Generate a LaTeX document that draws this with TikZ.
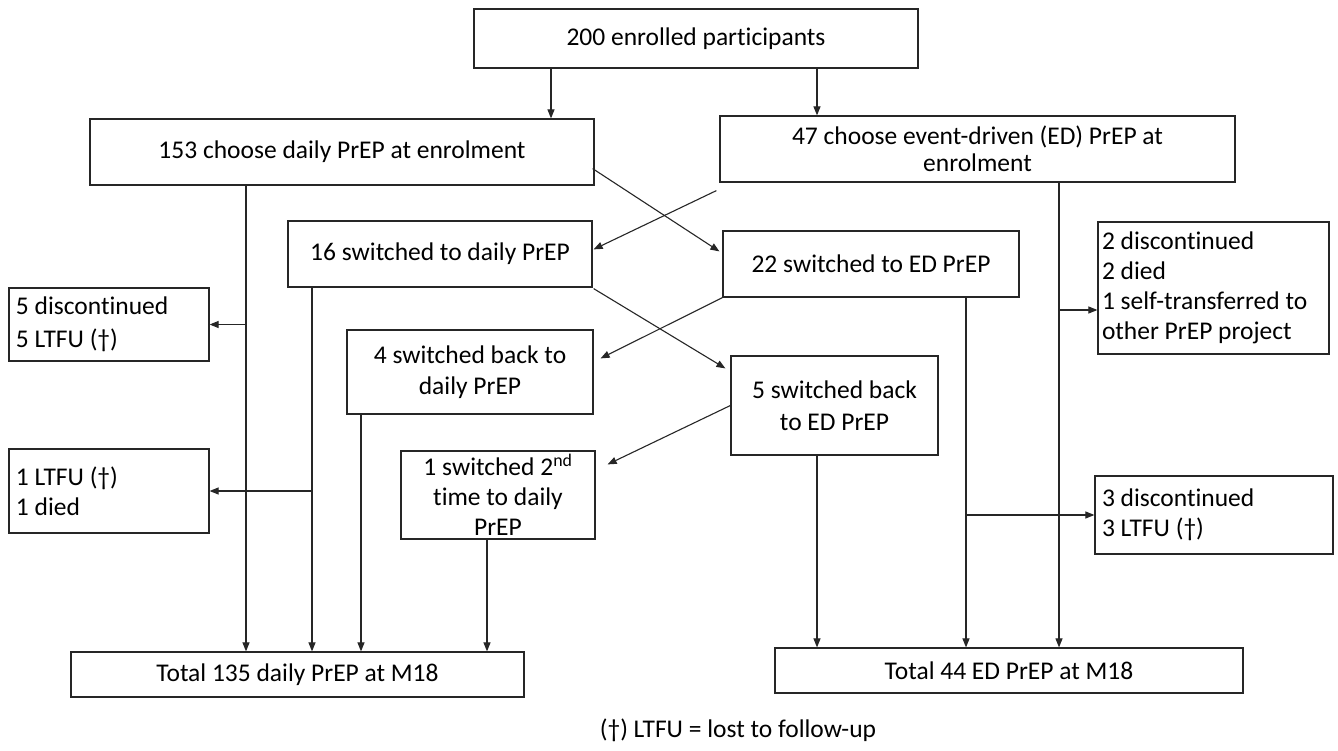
\documentclass[tikz,border=0pt]{standalone}
\usepackage{fontspec}
\setmainfont[Ligatures=NoCommon]{Carlito}
\usetikzlibrary{arrows.meta,calc}
\begin{document}
\begin{tikzpicture}[x=1pt,y=-1pt,
  every node/.style={font=\fontsize{25.5}{30}\selectfont, text=black},
  box/.style={draw=black!85, line width=1.2pt, inner sep=0pt, align=center},
  lbox/.style={draw=black!85, line width=1.2pt, inner ysep=0pt, inner xsep=7pt, align=flush left},
  ln/.style={draw=black!85, line width=1.1pt},
  arr/.style={ln, -{Triangle[length=9pt,width=7pt]}}]
\useasboundingbox (0,0) rectangle (1338,751);
\fill[white] (0,0) rectangle (1338,751);

% boxes
\node[box, minimum width=444pt, minimum height=59pt] (top) at (696,38.5) {200 enrolled participants};
\node[box, minimum width=504pt, minimum height=66pt] (d153) at (342,152) {153 choose daily PrEP at enrolment};
\node[box, minimum width=515pt, minimum height=66pt, font=\fontsize{25.5}{27}\selectfont] (ed47) at (977.5,149) {47 choose event-driven (ED) PrEP at\\enrolment};
\node[box, minimum width=304pt, minimum height=66pt] (s16) at (440,254) {16 switched to daily PrEP};
\node[box, minimum width=296pt, minimum height=66pt] (s22) at (871,264) {22 switched to ED PrEP};
\node[lbox, text width=223pt, minimum height=132pt, inner xsep=4pt] (r1) at (1213.5,288) {2 discontinued\\2 died\\1 self-transferred to\\other PrEP project};
\node[lbox, text width=186pt, minimum height=73pt, font=\fontsize{25.5}{33}\selectfont] (l5) at (109,324.5) {5 discontinued\\5 LTFU (†)};
\node[box, minimum width=246pt, minimum height=84pt, font=\fontsize{25.5}{31}\selectfont] (b4) at (470,372) {4 switched back to\\daily PrEP};
\node[box, minimum width=207pt, minimum height=99pt, font=\fontsize{25.5}{32}\selectfont] (b5) at (834.5,405.5) {5 switched back\\to ED PrEP};
\node[box, minimum width=194pt, minimum height=88pt] (sw2) at (498,495) {1 switched 2\textsuperscript{nd}\\time to daily\\PrEP};
\node[lbox, text width=186pt, minimum height=84pt] (l1) at (109,491) {1 LTFU (†)\\1 died};
\node[lbox, text width=224pt, minimum height=78pt] (r3) at (1214,515) {3 discontinued\\3 LTFU (†)};
\node[box, minimum width=453pt, minimum height=45pt] (t135) at (297.5,674.5) {Total 135 daily PrEP at M18};
\node[box, minimum width=468pt, minimum height=45pt] (t44) at (1009,670.5) {Total 44 ED PrEP at M18};
\node (note) at (738,730) {(†) LTFU = lost to follow-up};

% columns of the vertical connectors
\coordinate (xa) at (551,0);
\coordinate (xb) at (817,0);
\coordinate (xc) at (246,0);
\coordinate (xd) at (312,0);
\coordinate (xe) at (361,0);
\coordinate (xf) at (487,0);
\coordinate (xg) at (966,0);
\coordinate (xh) at (1059,0);
\coordinate (yb) at (0,310);

% enrolment split
\draw[arr] (top.south -| xa) -- (d153.north -| xa);
\draw[arr] (top.south -| xb) -- (ed47.north -| xb);

% daily arm
\draw[arr] (d153.south -| xc) -- (t135.north -| xc);
\draw[arr] (l5.east -| xc) -- (l5.east);
\draw[arr] (s16.south -| xd) -- (t135.north -| xd);
\draw[arr] (l1.east -| xd) -- (l1.east);
\draw[arr] (b4.south -| xe) -- (t135.north -| xe);
\draw[arr] (sw2.south -| xf) -- (t135.north -| xf);

% event-driven arm
\draw[arr] (b5.south -| xb) -- (t44.north -| xb);
\draw[arr] (s22.south -| xg) -- (t44.north -| xg);
\draw[arr] (r3.west -| xg) -- (r3.west);
\draw[arr] (ed47.south -| xh) -- (t44.north -| xh);
\draw[arr] (yb -| xh) -- (r1.west |- yb);

% switches between regimens
\draw[arr] ($(d153.south east)+(-2,-17)$) -- ($(s22.north west)+(-3,21)$);
\draw[arr] ($(ed47.south west)+(-3,8)$) -- ($(s16.north east)+(1,29)$);
\draw[arr] ($(s16.south east)+(1,1)$) -- ($(b5.north west)+(-5,13)$);
\draw[arr] (s22.south west) -- ($(b4.north east)+(7,29)$);
\draw[arr] (b5.west) -- ($(sw2.north east)+(12,14)$);
\end{tikzpicture}
\end{document}
